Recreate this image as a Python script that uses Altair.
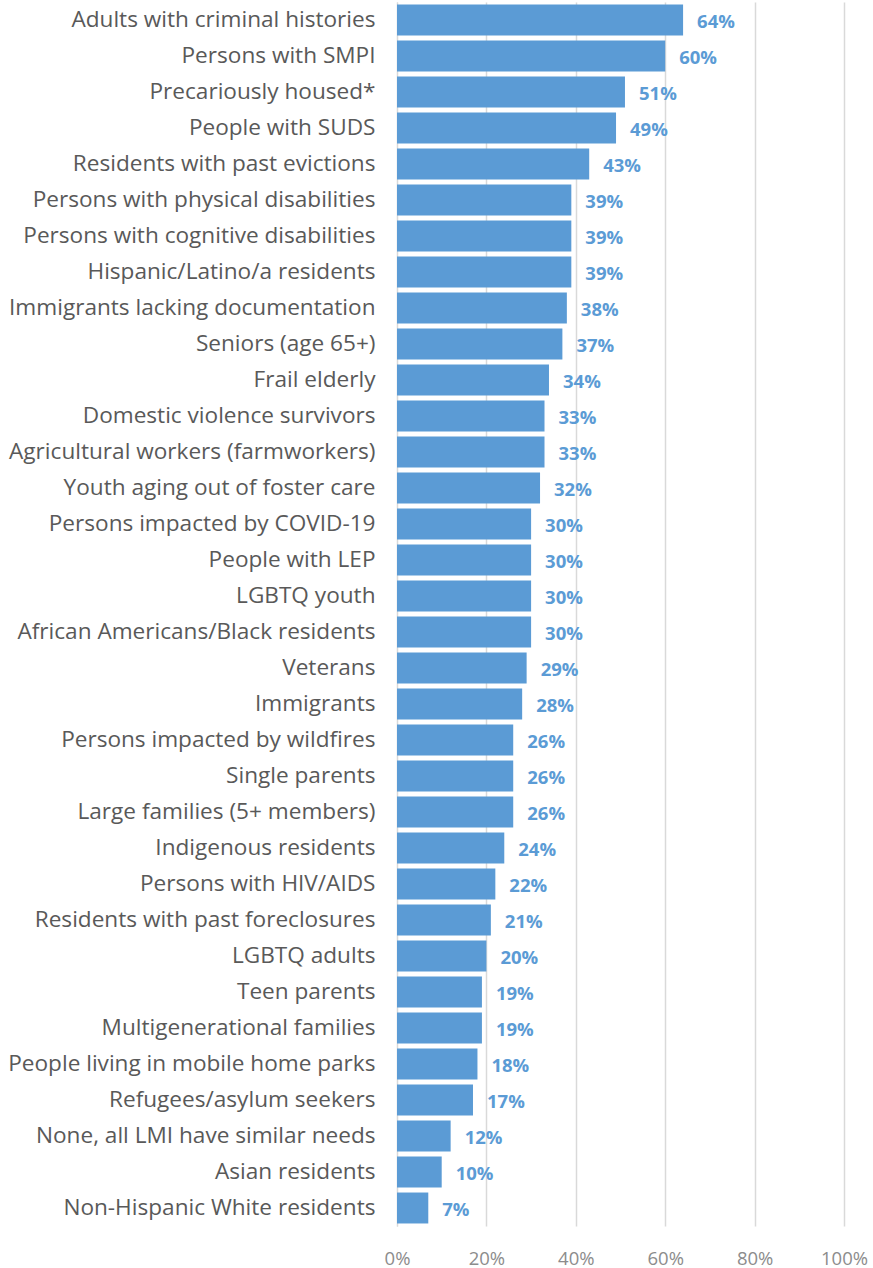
import altair as alt
import pandas as pd

categories = [
    "Adults with criminal histories", "Persons with SMPI", "Precariously housed*",
    "People with SUDS", "Residents with past evictions", "Persons with physical disabilities",
    "Persons with cognitive disabilities", "Hispanic/Latino/a residents",
    "Immigrants lacking documentation", "Seniors (age 65+)", "Frail elderly",
    "Domestic violence survivors", "Agricultural workers (farmworkers)",
    "Youth aging out of foster care", "Persons impacted by COVID-19", "People with LEP",
    "LGBTQ youth", "African Americans/Black residents", "Veterans", "Immigrants",
    "Persons impacted by wildfires", "Single parents", "Large families (5+ members)",
    "Indigenous residents", "Persons with HIV/AIDS", "Residents with past foreclosures",
    "LGBTQ adults", "Teen parents", "Multigenerational families",
    "People living in mobile home parks", "Refugees/asylum seekers",
    "None, all LMI have similar needs", "Asian residents", "Non-Hispanic White residents",
]
values = [0.64, 0.60, 0.51, 0.49, 0.43, 0.39, 0.39, 0.39, 0.38, 0.37, 0.34, 0.33, 0.33,
          0.32, 0.30, 0.30, 0.30, 0.30, 0.29, 0.28, 0.26, 0.26, 0.26, 0.24, 0.22, 0.21,
          0.20, 0.19, 0.19, 0.18, 0.17, 0.12, 0.10, 0.07]
x_ticks = [0, 0.2, 0.4, 0.6, 0.8, 1.0]

df = pd.DataFrame({"cat": categories, "val": values})
df["label"] = [f"{round(v*100)}%" for v in values]

FONT = "Open Sans"
BLUE = "#5B9BD5"

y = alt.Y("cat:N", sort=categories, title=None,
          scale=alt.Scale(paddingInner=0.14, paddingOuter=0.07),
          axis=alt.Axis(labelFont=FONT, labelFontSize=22.6, labelColor="#595959",
                        labelPadding=22, ticks=False, domain=True, domainColor="#D9D9D9",
                        labelLimit=420))
x = alt.X("val:Q", title=None,
          scale=alt.Scale(domain=[0, 1], nice=False),
          axis=alt.Axis(values=x_ticks, format=".0%", labelFont=FONT, labelFontSize=18.5,
                        labelColor="#8C8C8C", ticks=False, domain=False,
                        gridColor="#D9D9D9", gridWidth=1.5, labelPadding=23,
                        labelFlush=False))

bars = alt.Chart(df).mark_bar(color=BLUE).encode(x=x, y=y)
text = alt.Chart(df).mark_text(align="left", baseline="middle", dx=14, dy=2, font=FONT,
                               fontSize=18.5, fontWeight="bold", color=BLUE).encode(
    x=alt.X("val:Q"), y=alt.Y("cat:N", sort=categories), text="label:N")

chart = (bars + text).properties(
    width=447, height=1224,
    autosize=alt.AutoSizeParams(type="none"),
    padding={"left": 397, "top": 2, "right": 29, "bottom": 42},
    background="white",
).configure_view(stroke=None)

chart.save("out.html", embed_options={"renderer": "svg", "actions": False})
